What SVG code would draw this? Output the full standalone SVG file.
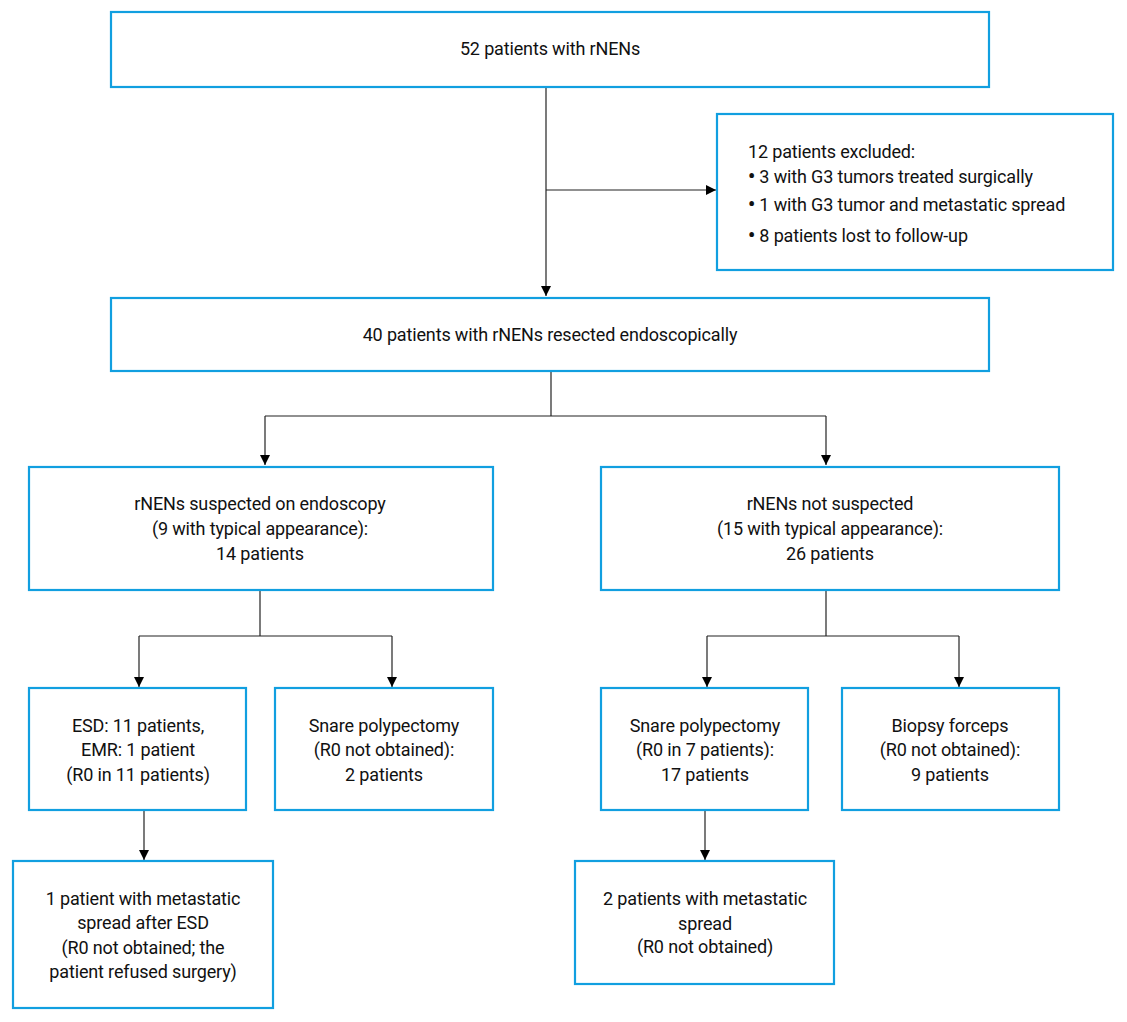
<svg xmlns="http://www.w3.org/2000/svg" width="1127" height="1022" viewBox="0 0 1127 1022">
<defs>
<style>
.box{fill:#fff;stroke:#119fe0;stroke-width:2.2}
.t{font-family:Roboto,"Liberation Sans",sans-serif;font-size:18px;fill:#111;letter-spacing:-0.15px}
.c{text-anchor:middle}
.b{font-weight:bold;font-size:20px}
.ln{fill:none;stroke:#222;stroke-width:1.2}
</style>
<marker id="ah" viewBox="0 0 10 10" refX="10" refY="5" markerWidth="10" markerHeight="10" markerUnits="userSpaceOnUse" orient="auto">
<path d="M0,0 L10,5 L0,10 Z" fill="#000"/>
</marker>
</defs>
<rect width="1127" height="1022" fill="#fff"/>
<g id="connectors">
<path class="ln" d="M546,88 V296" marker-end="url(#ah)"/>
<path class="ln" d="M546,190 H716" marker-end="url(#ah)"/>
<path class="ln" d="M551,372 V416"/>
<path class="ln" d="M265,416 H826"/>
<path class="ln" d="M265,416 V465" marker-end="url(#ah)"/>
<path class="ln" d="M826,416 V465" marker-end="url(#ah)"/>
<path class="ln" d="M260,591 V636"/>
<path class="ln" d="M139,636 H392"/>
<path class="ln" d="M139,636 V687" marker-end="url(#ah)"/>
<path class="ln" d="M392,636 V687" marker-end="url(#ah)"/>
<path class="ln" d="M826,591 V636"/>
<path class="ln" d="M707,636 H959"/>
<path class="ln" d="M707,636 V687" marker-end="url(#ah)"/>
<path class="ln" d="M959,636 V687" marker-end="url(#ah)"/>
<path class="ln" d="M144,811 V860" marker-end="url(#ah)"/>
<path class="ln" d="M705,811 V860" marker-end="url(#ah)"/>
</g>
<g id="n-total">
<rect class="box" x="111" y="12" width="878" height="75"/>
<text class="t c" x="550" y="55">52 patients with rNENs</text>
</g>
<g id="n-excluded">
<rect class="box" x="717" y="114" width="396" height="156"/>
<text class="t" x="748" y="158">12 patients excluded:</text>
<text class="t" x="748" y="183"><tspan class="b">•</tspan> 3 with G3 tumors treated surgically</text>
<text class="t" x="748" y="211"><tspan class="b">•</tspan> 1 with G3 tumor and metastatic spread</text>
<text class="t" x="748" y="242"><tspan class="b">•</tspan> 8 patients lost to follow-up</text>
</g>
<g id="n-resected">
<rect class="box" x="111" y="298" width="878" height="73"/>
<text class="t c" x="550" y="341">40 patients with rNENs resected endoscopically</text>
</g>
<g id="n-suspected">
<rect class="box" x="29" y="467" width="464" height="123"/>
<text class="t c" x="260" y="510">rNENs suspected on endoscopy</text>
<text class="t c" x="260" y="535">(9 with typical appearance):</text>
<text class="t c" x="260" y="560">14 patients</text>
</g>
<g id="n-notsuspected">
<rect class="box" x="601" y="467" width="458" height="123"/>
<text class="t c" x="830" y="510">rNENs not suspected</text>
<text class="t c" x="830" y="535">(15 with typical appearance):</text>
<text class="t c" x="830" y="560">26 patients</text>
</g>
<g id="n-esd">
<rect class="box" x="29" y="688" width="217" height="122"/>
<text class="t c" x="138" y="732">ESD: 11 patients,</text>
<text class="t c" x="138" y="756">EMR: 1 patient</text>
<text class="t c" x="138" y="781">(R0 in 11 patients)</text>
</g>
<g id="n-snare-left">
<rect class="box" x="275" y="688" width="218" height="122"/>
<text class="t c" x="384" y="732">Snare polypectomy</text>
<text class="t c" x="384" y="756">(R0 not obtained):</text>
<text class="t c" x="384" y="781">2 patients</text>
</g>
<g id="n-snare-right">
<rect class="box" x="601" y="688" width="207" height="122"/>
<text class="t c" x="705" y="732">Snare polypectomy</text>
<text class="t c" x="705" y="756">(R0 in 7 patients):</text>
<text class="t c" x="705" y="781">17 patients</text>
</g>
<g id="n-biopsy">
<rect class="box" x="842" y="688" width="217" height="122"/>
<text class="t c" x="950" y="732">Biopsy forceps</text>
<text class="t c" x="950" y="756">(R0 not obtained):</text>
<text class="t c" x="950" y="781">9 patients</text>
</g>
<g id="n-meta-left">
<rect class="box" x="13" y="861" width="260" height="147"/>
<text class="t c" x="143" y="905">1 patient with metastatic</text>
<text class="t c" x="143" y="929">spread after ESD</text>
<text class="t c" x="143" y="954">(R0 not obtained; the</text>
<text class="t c" x="143" y="978">patient refused surgery)</text>
</g>
<g id="n-meta-right">
<rect class="box" x="575" y="861" width="259" height="123"/>
<text class="t c" x="705" y="905">2 patients with metastatic</text>
<text class="t c" x="705" y="930">spread</text>
<text class="t c" x="705" y="953">(R0 not obtained)</text>
</g>
</svg>
